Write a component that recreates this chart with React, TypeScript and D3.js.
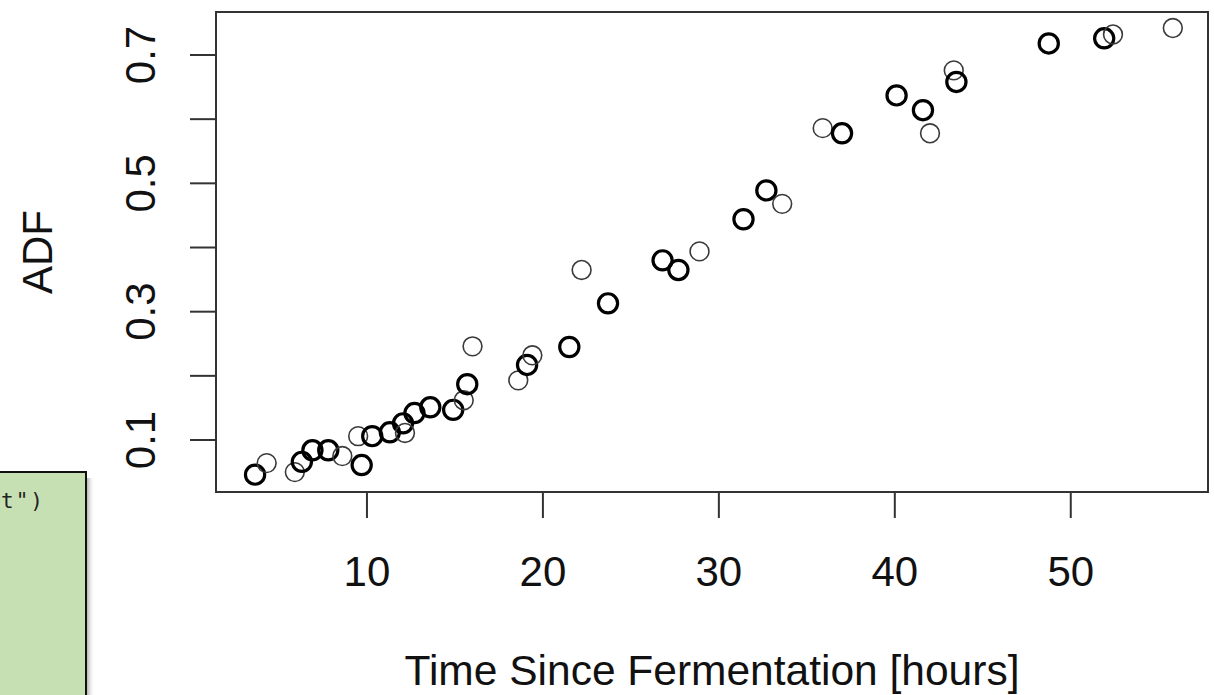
import React from "react";
import * as d3 from "d3";

// Data
const timeHours = [
  3.64, 4.3, 5.9, 6.3, 6.9, 7.8, 8.6, 9.7, 9.5, 10.3, 11.3, 12.05, 12.16, 12.7,
  13.6, 14.9, 15.5, 15.7, 16.0, 18.6, 19.1, 19.4, 21.5, 22.2, 23.7, 26.8, 27.7,
  28.9, 31.4, 32.7, 33.6, 35.9, 37.0, 40.1, 41.6, 42.0, 43.35, 43.5, 48.75,
  51.9, 52.4, 55.8,
];
const adfValues = [
  0.046, 0.064, 0.05, 0.066, 0.084, 0.084, 0.075, 0.061, 0.106, 0.106, 0.112,
  0.126, 0.111, 0.142, 0.151, 0.147, 0.162, 0.187, 0.246, 0.193, 0.217, 0.232,
  0.245, 0.365, 0.313, 0.38, 0.365, 0.394, 0.444, 0.489, 0.468, 0.586, 0.578,
  0.637, 0.614, 0.578, 0.676, 0.658, 0.718, 0.726, 0.732, 0.742,
];
// 1 = overplotted (dark, heavy ring), 0 = single (light ring)
const overplotted = [
  1, 0, 0, 1, 1, 1, 0, 1, 0, 1, 1, 1, 0, 1, 1, 1, 0, 1, 0, 0, 1, 0, 1, 0, 1, 1,
  1, 0, 1, 1, 0, 0, 1, 1, 1, 0, 0, 1, 1, 1, 0, 0,
];

const xDomain = [1.42, 57.8];
const yDomain = [0.019, 0.767];
const xTicks = [10, 20, 30, 40, 50];
const yTicks = [0.1, 0.2, 0.3, 0.4, 0.5, 0.6, 0.7];
const yTickLabels = ["0.1", "", "0.3", "", "0.5", "", "0.7"];
const xTitle = "Time Since Fermentation [hours]";
const yTitle = "ADF";
const snippetText = 't")';

export default function App() {
  const W = 1214;
  const H = 695;
  const left = 216;
  const right = 1208;
  const top = 12;
  const bottom = 492;
  const x = d3.scaleLinear().domain(xDomain).range([left, right]);
  const y = d3.scaleLinear().domain(yDomain).range([bottom, top]);
  const font = "'Liberation Sans', Arial, Helvetica, sans-serif";
  const tickLen = 26;
  const axisColor = "#333";

  const pts = timeHours.map((t, i) => ({ t, v: adfValues[i], b: overplotted[i] }));

  return (
    <svg
      width={W}
      height={H}
      style={{ position: "absolute", left: 0, top: 0, display: "block" }}
      xmlns="http://www.w3.org/2000/svg"
    >
      <defs>
        <linearGradient id="shadow" x1="0" x2="1" y1="0" y2="0">
          <stop offset="0%" stopColor="#888" stopOpacity={0.6} />
          <stop offset="100%" stopColor="#fff" stopOpacity={0} />
        </linearGradient>
      </defs>
      <rect x={0} y={0} width={W} height={H} fill="#fff" />

      {/* partial green code box on the left */}
      <rect x={87} y={478} width={8} height={H - 478} fill="url(#shadow)" />
      <rect x={-2} y={472} width={88} height={H - 470} fill="#c6e0b4" stroke="#111" strokeWidth={2} />
      <text
        x={1}
        y={508}
        textAnchor="start"
        fontFamily="'DejaVu Sans Mono', 'Liberation Mono', monospace"
        fontSize={21}
        fill="#222"
        letterSpacing={2}
      >
        {snippetText}
      </text>

      {/* plot box */}
      <rect
        x={left}
        y={top}
        width={right - left}
        height={bottom - top}
        fill="none"
        stroke={axisColor}
        strokeWidth={2}
      />

      {/* x axis */}
      {xTicks.map((t) => (
        <g key={"xt" + t}>
          <line x1={x(t)} x2={x(t)} y1={bottom} y2={bottom + tickLen} stroke={axisColor} strokeWidth={2} />
          <text x={x(t)} y={586} textAnchor="middle" fontFamily={font} fontSize={42} fill="#111">
            {t}
          </text>
        </g>
      ))}

      {/* y axis */}
      {yTicks.map((t, i) => (
        <g key={"yt" + t}>
          <line x1={left - tickLen} x2={left} y1={y(t)} y2={y(t)} stroke={axisColor} strokeWidth={2} />
          {yTickLabels[i] && (
            <text
              transform={`translate(155,${y(t)}) rotate(-90)`}
              textAnchor="middle"
              fontFamily={font}
              fontSize={42}
              fill="#111"
            >
              {yTickLabels[i]}
            </text>
          )}
        </g>
      ))}

      {/* titles */}
      <text x={(left + right) / 2} y={685} textAnchor="middle" fontFamily={font} fontSize={42.5} fill="#111">
        {xTitle}
      </text>
      <text
        transform={`translate(52,${(top + bottom) / 2}) rotate(-90)`}
        textAnchor="middle"
        fontFamily={font}
        fontSize={42}
        fill="#111"
      >
        {yTitle}
      </text>

      {/* points */}
      {pts.map((p, i) => (
        <circle
          key={i}
          cx={x(p.t)}
          cy={y(p.v)}
          r={p.b ? 9.6 : 9.4}
          fill="none"
          stroke={p.b ? "#000" : "#3a3a3a"}
          strokeWidth={p.b ? 3.2 : 1.6}
        />
      ))}
    </svg>
  );
}
